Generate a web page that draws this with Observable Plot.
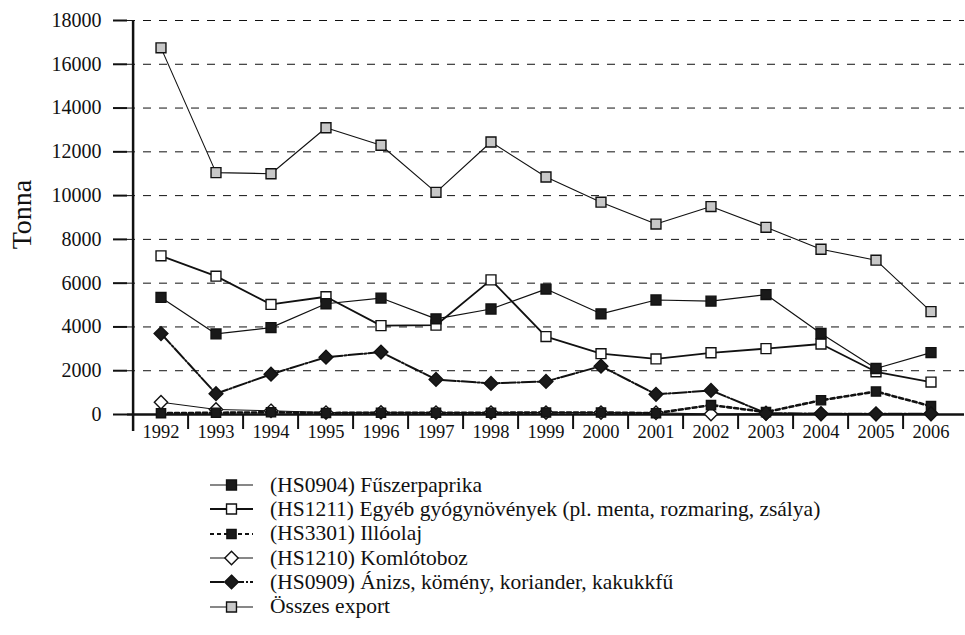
<!DOCTYPE html>
<html>
<head>
<meta charset="utf-8">
<script src="https://cdn.jsdelivr.net/npm/d3@7"></script>
<script src="https://cdn.jsdelivr.net/npm/@observablehq/plot@0.6"></script>
<style>
  body { margin: 0; background: #fff; font-family: "Liberation Serif", serif; }
  #chart { width: 965px; }
  #chart svg, #chart text { font-family: "Liberation Serif", serif; }
  #legend { margin-top: 18px; margin-left: 210px; }
  .row { height: 24.3px; display: flex; align-items: center; font-size: 21.5px; color: #111; white-space: nowrap; }
  .row svg { margin-right: 17px; flex: none; }
</style>
</head>
<body>
<div id="chart"></div>
<div id="legend"></div>
<script>
const years = ["1992","1993","1994","1995","1996","1997","1998","1999","2000","2001","2002","2003","2004","2005","2006"];
const yTicks = [0, 2000, 4000, 6000, 8000, 10000, 12000, 14000, 16000, 18000];

const seriesNames = [
  "Összes export",
  "(HS1211) Egyéb gyógynövények (pl. menta, rozmaring, zsálya)",
  "(HS0904) Fűszerpaprika",
  "(HS1210) Komlótoboz",
  "(HS3301) Illóolaj",
  "(HS0909) Ánizs, kömény, koriander, kakukkfű"
];
const osszes   = [16750, 11050, 11000, 13100, 12300, 10150, 12450, 10850, 9700, 8700, 9500, 8550, 7550, 7050, 4700];
const hs1211   = [7250, 6320, 5030, 5380, 4060, 4080, 6150, 3560, 2780, 2540, 2820, 3010, 3220, 1950, 1480];
const hs0904   = [5350, 3680, 3970, 5060, 5320, 4370, 4820, 5730, 4600, 5230, 5180, 5480, 3700, 2100, 2830];
const hs1210   = [560, 230, 170, 90, 100, 90, 90, 90, 90, 80, 20, 40, 20, 20, 20];
const hs3301   = [60, 80, 100, 70, 80, 80, 80, 90, 90, 60, 430, 110, 650, 1050, 380];
const hs0909   = [3700, 950, 1840, 2620, 2850, 1600, 1420, 1510, 2210, 920, 1100, 60, 40, 30, 40];

const values = [osszes, hs1211, hs0904, hs1210, hs3301, hs0909];

const styles = [
  {symbol: "square",   fill: "#c8c8c8", r: 5.6, lw: 1.1, dash: null},
  {symbol: "square",   fill: "#ffffff", r: 5.6, lw: 1.8, dash: null},
  {symbol: "square",   fill: "#1a1a1a", r: 5.6, lw: 1.2, dash: null},
  {symbol: "diamond2", fill: "#ffffff", r: 6.0, lw: 1.0, dash: null},
  {symbol: "square",   fill: "#1a1a1a", r: 5.2, lw: 2.6, dash: "4,3"},
  {symbol: "diamond2", fill: "#1a1a1a", r: 6.2, lw: 2.0, dash: "14,2,2,2"}
];

const data = [];
seriesNames.forEach((name, si) => {
  years.forEach((yr, i) => data.push({series: name, si, year: yr, value: values[si][i]}));
});

const W = 965, H = 455, mL = 127, mR = 1, mT = 20, mB = 41;
const bw = (W - mL - mR) / years.length;
const FONT = "'Liberation Serif', serif";

const lineMarks = [];
const dotMarks = [];
seriesNames.forEach((name, si) => {
  const st = styles[si];
  const d = data.filter(r => r.si === si);
  lineMarks.push(Plot.line(d, {x: "year", y: "value", stroke: "#111", strokeWidth: st.lw, strokeDasharray: st.dash || undefined}));
  dotMarks.push(Plot.dot(d, {x: "year", y: "value", symbol: () => st.symbol, r: st.r, fill: st.fill, stroke: "#111", strokeWidth: 1.4}));
});

const chart = Plot.plot({
  width: W, height: H,
  marginLeft: mL, marginRight: mR, marginTop: mT, marginBottom: mB,
  style: {fontFamily: FONT, color: "#111", background: "#fff"},
  x: {type: "band", domain: years, padding: 0},
  y: {domain: [0, 18000]},
  symbol: {type: "identity"},
  marks: [
    Plot.gridY(yTicks.filter(t => t > 0), {stroke: "#111", strokeOpacity: 1, strokeWidth: 1, strokeDasharray: "8,8"}),
    Plot.axisY({ticks: yTicks, tickSize: 14, tickPadding: 12, tickFormat: d3.format("d"), fontSize: 20, strokeWidth: 2, label: null}),
    Plot.axisX({tickSize: 0, tickPadding: 10, fontSize: 18.5, label: null}),
    Plot.ruleY([0], {stroke: "#111", strokeWidth: 2.5}),
    Plot.ruleX(years.slice(1), {x: d => d, dx: -bw / 2, y1: 0, y2: 0, insetBottom: -15, stroke: "#111", strokeWidth: 2}),
    Plot.ruleX([years[0]], {x: d => d, dx: -bw / 2, insetBottom: -17, stroke: "#111", strokeWidth: 2.5}),
    Plot.text(["Tonna"], {text: d => d, frameAnchor: "left", dx: -105, dy: -3, rotate: -90, textAnchor: "middle", lineAnchor: "middle", fontSize: 28, fill: "#111"}),
    ...lineMarks,
    ...dotMarks
  ]
});
document.getElementById("chart").appendChild(chart);

// Legend
const legendOrder = [2, 1, 4, 3, 5, 0];
const legend = document.getElementById("legend");
legendOrder.forEach(si => {
  const st = styles[si];
  const row = document.createElement("div");
  row.className = "row";
  const svg = d3.create("svg").attr("width", 43).attr("height", 22);
  svg.append("line").attr("x1", 0).attr("x2", 43).attr("y1", 11).attr("y2", 11)
    .attr("stroke", "#111").attr("stroke-width", Math.min(st.lw, 2)).attr("stroke-dasharray", st.dash);
  const sym = st.symbol === "square" ? d3.symbolSquare : d3.symbolDiamond2;
  svg.append("path").attr("transform", "translate(21.5,11)")
    .attr("d", d3.symbol(sym, Math.PI * st.r * st.r)())
    .attr("fill", st.fill).attr("stroke", "#111").attr("stroke-width", 1.4);
  row.appendChild(svg.node());
  const span = document.createElement("span");
  span.textContent = seriesNames[si];
  row.appendChild(span);
  legend.appendChild(row);
});
</script>
</body>
</html>
